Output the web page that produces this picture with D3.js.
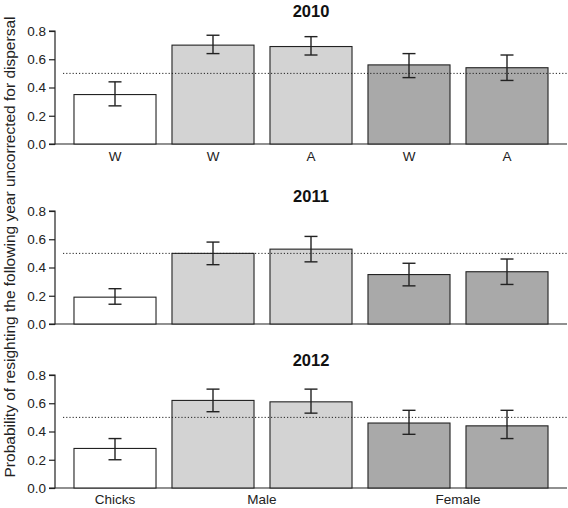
<!DOCTYPE html>
<html><head><meta charset="utf-8">
<script src="https://cdn.jsdelivr.net/npm/d3@7"></script>
<style>body{margin:0;background:#fff}svg{display:block;font-family:"Liberation Sans",Arial,sans-serif}</style>
</head><body>
<svg id="chart" width="568" height="508"></svg>
<script>
const years = ["2010", "2011", "2012"];
const groups = ["Chicks", "Male", "Male", "Female", "Female"];
const ageLabels = ["W", "W", "A", "W", "A"];
const groupLabels = ["Chicks", "Male", "Female"];
const values2010 = [0.35, 0.70, 0.69, 0.56, 0.54];
const lower2010 = [0.27, 0.64, 0.63, 0.47, 0.45];
const upper2010 = [0.44, 0.77, 0.76, 0.64, 0.63];
const values2011 = [0.19, 0.50, 0.53, 0.35, 0.37];
const lower2011 = [0.14, 0.42, 0.44, 0.27, 0.28];
const upper2011 = [0.25, 0.58, 0.62, 0.43, 0.46];
const values2012 = [0.28, 0.62, 0.61, 0.46, 0.44];
const lower2012 = [0.20, 0.54, 0.53, 0.38, 0.35];
const upper2012 = [0.35, 0.70, 0.70, 0.55, 0.55];
const yTicks = [0, 0.2, 0.4, 0.6, 0.8];
const refLine = 0.5;
const yTitle = "Probability of resighting the following year uncorrected for dispersal";

const panels = [
  {year: years[0], v: values2010, lo: lower2010, hi: upper2010, y0: 144, titleY: 17, labels: ageLabels},
  {year: years[1], v: values2011, lo: lower2011, hi: upper2011, y0: 324, titleY: 202, labels: null},
  {year: years[2], v: values2012, lo: lower2012, hi: upper2012, y0: 488, titleY: 366, labels: null}
];
const fillOf = {Chicks: "#ffffff", Male: "#d3d3d3", Female: "#a9a9a9"};
const ink = "#222";

const svg = d3.select("#chart");
const x = d3.scaleBand().domain(d3.range(groups.length)).range([66, 556]).paddingInner(0.163).paddingOuter(0.0815);
const axisX = 55;

panels.forEach((p, pi) => {
  const y = d3.scaleLinear().domain([0, 0.8]).range([p.y0, p.y0 - 113]);
  const g = svg.append("g");
  const ax = g.append("g").attr("transform", `translate(${axisX},0)`)
    .call(d3.axisLeft(y).tickValues(yTicks).tickFormat(d3.format(".1f")).tickSize(6).tickPadding(3));
  ax.select(".domain").attr("d", `M-6,${y(0)}H0V${y(0.8)}H-6`).attr("stroke", ink).attr("stroke-width", 1.2);
  ax.selectAll(".tick line").attr("stroke", ink).attr("stroke-width", 1.2);
  ax.selectAll(".tick text").attr("font-size", 13.5).attr("fill", ink).attr("font-family", "Liberation Sans, Arial, sans-serif");
  g.append("line").attr("x1", axisX).attr("x2", 567).attr("y1", y(0)).attr("y2", y(0))
    .attr("stroke", ink).attr("stroke-width", 1.2);
  g.selectAll("rect.bar").data(p.v).join("rect").attr("class", "bar")
    .attr("x", (d, i) => x(i)).attr("width", x.bandwidth())
    .attr("y", d => y(d)).attr("height", d => y(0) - y(d))
    .attr("fill", (d, i) => fillOf[groups[i]]).attr("stroke", ink).attr("stroke-width", 1.1);
  g.append("line").attr("x1", 63).attr("x2", 567).attr("y1", y(refLine)).attr("y2", y(refLine))
    .attr("stroke", ink).attr("stroke-width", 1).attr("stroke-dasharray", "1.2,2");
  const cx = i => x(i) + x.bandwidth() / 2;
  p.v.forEach((d, i) => {
    const eg = g.append("g").attr("stroke", ink).attr("stroke-width", 1.4);
    eg.append("line").attr("x1", cx(i)).attr("x2", cx(i)).attr("y1", y(p.lo[i])).attr("y2", y(p.hi[i]));
    eg.append("line").attr("x1", cx(i) - 6.5).attr("x2", cx(i) + 6.5).attr("y1", y(p.lo[i])).attr("y2", y(p.lo[i]));
    eg.append("line").attr("x1", cx(i) - 6.5).attr("x2", cx(i) + 6.5).attr("y1", y(p.hi[i])).attr("y2", y(p.hi[i]));
  });
  g.append("text").attr("x", cx(2)).attr("y", p.titleY).attr("text-anchor", "middle")
    .attr("font-size", 16.5).attr("font-weight", "bold").attr("fill", "#111").text(p.year);
  if (p.labels) {
    g.selectAll("text.xl").data(p.labels).join("text").attr("class", "xl")
      .attr("x", (d, i) => cx(i)).attr("y", y(0) + 17).attr("text-anchor", "middle")
      .attr("font-size", 13.5).attr("fill", ink).text(d => d);
  }
  if (pi === panels.length - 1) {
    const pos = groupLabels.map(gl => {
      const idx = groups.map((gg, i) => gg === gl ? i : -1).filter(i => i >= 0);
      return d3.mean(idx, i => cx(i));
    });
    g.selectAll("text.gl").data(groupLabels).join("text").attr("class", "gl")
      .attr("x", (d, i) => pos[i]).attr("y", y(0) + 16).attr("text-anchor", "middle")
      .attr("font-size", 13.5).attr("fill", ink).text(d => d);
  }
});

svg.append("text").attr("transform", "translate(15,247) rotate(-90)").attr("text-anchor", "middle")
  .attr("font-size", 15.5).attr("fill", ink).text(yTitle);
</script>
</body></html>
